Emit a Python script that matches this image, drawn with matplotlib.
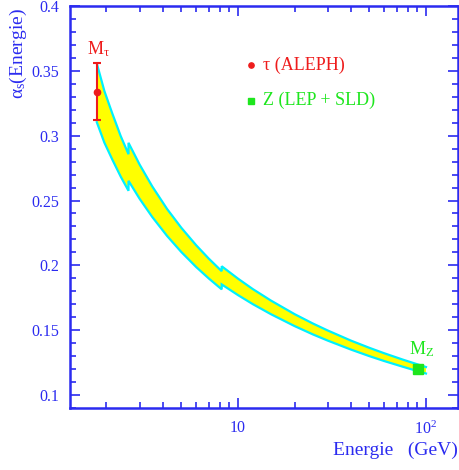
import matplotlib
matplotlib.use("Agg")
import matplotlib.pyplot as plt
from matplotlib.ticker import FixedLocator, FuncFormatter, MultipleLocator

plt.rcParams['font.family'] = ['Liberation Serif', 'DejaVu Serif']
plt.rcParams['mathtext.fontset'] = 'custom'
plt.rcParams['mathtext.rm'] = 'Liberation Serif'
plt.rcParams['mathtext.it'] = 'Liberation Serif'

# band segments (energy GeV, upper alpha_s, lower alpha_s)
seg1_E = [1.777, 1.95, 2.15, 2.38, 2.62]
seg1_up = [0.3558, 0.3344, 0.3170, 0.2998, 0.2857]
seg1_lo = [0.3104, 0.2946, 0.2815, 0.2685, 0.2575]

seg2_E = [2.62, 3.0, 3.5, 4.2, 5.0, 6.0, 7.0, 8.2]
seg2_up = [0.2945, 0.2778, 0.2610, 0.2435, 0.2290, 0.2155, 0.2052, 0.1955]
seg2_lo = [0.2652, 0.2514, 0.2374, 0.2227, 0.2103, 0.1987, 0.1899, 0.1815]

seg3_E = [8.2, 10, 12, 15, 20, 25, 30, 40, 50, 60, 75, 90, 100]
seg3_up = [0.1993, 0.1898, 0.1817, 0.1728, 0.1624, 0.1552, 0.1498, 0.1419,
           0.1364, 0.1322, 0.1274, 0.1237, 0.1216]
seg3_lo = [0.1853, 0.1771, 0.1701, 0.1623, 0.1532, 0.1468, 0.1420, 0.1350,
           0.1300, 0.1262, 0.1219, 0.1185, 0.1166]

# measurements
tau_E, tau_val, tau_err_up, tau_err_lo = 1.777, 0.334, 0.022, 0.022
z_E, z_val = 91.2, 0.120

legend_labels = ["τ (ALEPH)", "Z (LEP + SLD)"]

blue = '#2b2bf0'
red = '#ee1c1c'
green = '#1ee61e'

fig = plt.figure(figsize=(4.6, 4.7), dpi=100)
ax = fig.add_axes([70/460, 1-408/470, (458-70)/460, (408-6)/470])

E_all = seg1_E + seg2_E + seg3_E
up_all = seg1_up + seg2_up + seg3_up
lo_all = seg1_lo + seg2_lo + seg3_lo

poly_x = E_all + E_all[::-1]
poly_y = up_all + lo_all[::-1]
ax.fill(poly_x, poly_y, color='#ffff00', lw=0, zorder=2)
ax.plot(E_all, up_all, color='#00f0ff', lw=1.6, zorder=3, solid_joinstyle='miter')
ax.plot(E_all, lo_all, color='#00f0ff', lw=1.6, zorder=3, solid_joinstyle='miter')

ax.errorbar([tau_E], [tau_val], yerr=[[tau_err_lo], [tau_err_up]], fmt='o', color=red,
            ms=4.5, capsize=3, elinewidth=1.5, capthick=1.5, zorder=5)
ax.plot([z_E], [z_val], 's', color=green, ms=6.5, zorder=5)

ax.text(1.81, 0.367, r'M$_\tau$', color=red, fontsize=13, ha='center', va='center')
ax.text(94.4, 0.135, r'M$_\mathrm{Z}$', color=green, fontsize=13, ha='center', va='center')

# legend
ax.plot([11.76], [0.3545], 'o', color=red, ms=3.8)
ax.text(13.65, 0.3545, legend_labels[0], color=red, fontsize=13, va='center', ha='left')
ax.plot([11.76], [0.3270], 's', color=green, ms=3.8)
ax.text(13.65, 0.3270, legend_labels[1], color=green, fontsize=13, va='center', ha='left')

ax.set_xscale('log')
ax.set_xlim(1.28, 148)
ax.set_ylim(0.09, 0.4)

ax.xaxis.set_major_locator(FixedLocator([10, 100]))
ax.xaxis.set_major_formatter(FuncFormatter(lambda v, p: '10' if v < 50 else r'10$^{2}$'))
ax.xaxis.set_minor_locator(FixedLocator([2, 3, 4, 5, 6, 7, 8, 9, 20, 30, 40, 50, 60, 70, 80, 90]))
ax.xaxis.set_minor_formatter(FuncFormatter(lambda v, p: ''))
ax.yaxis.set_major_locator(FixedLocator([0.1, 0.15, 0.2, 0.25, 0.3, 0.35, 0.4]))
ax.yaxis.set_major_formatter(FuncFormatter(lambda v, p: '%g' % round(v, 3)))
ax.yaxis.set_minor_locator(MultipleLocator(0.01))

ax.tick_params(axis='both', which='both', direction='in', color=blue, labelcolor=blue,
               top=True, right=True, width=1.2)
ax.tick_params(axis='both', which='major', length=7, labelsize=11.5)
ax.tick_params(axis='y', which='major', pad=8)
ax.tick_params(axis='x', which='major', pad=9)
ax.tick_params(axis='both', which='minor', length=4)
for s in ax.spines.values():
    s.set_color(blue)
    s.set_linewidth(1.8)

ax.set_ylabel(r'$\alpha_\mathrm{s}$(Energie)', color=blue, fontsize=14, loc='top')
ax.yaxis.set_label_coords(-0.105, 0.995)
ax.set_xlabel('Energie   (GeV)', color=blue, fontsize=14, loc='right')
ax.xaxis.set_label_coords(1.0, -0.085)

fig.savefig('out.png', dpi=100)
